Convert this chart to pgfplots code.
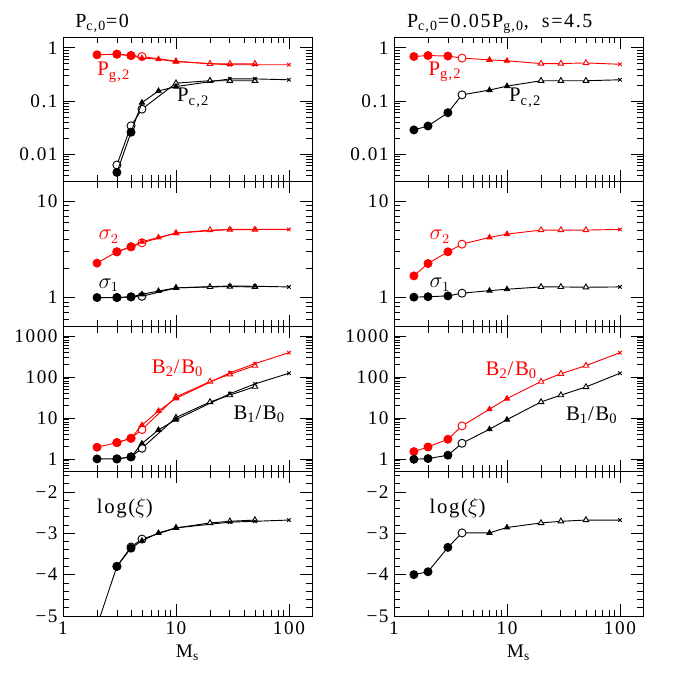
\documentclass[border=0pt]{standalone}
\usepackage{fontspec}
\setmainfont{Liberation Serif}[LetterSpace=8]
\usepackage{pgfplots}
\pgfplotsset{compat=1.18}

\pgfplotsset{
  scale only axis, width=161.85pt, height=94.09pt,
  xmin=1, xmax=160, xtick={1,10,100}, xticklabels={},
  minor xtick={2,3,4,5,6,7,8,9,20,30,40,50,60,70,80,90},
  major tick length=7.5pt, minor tick length=4.2pt,
  axis line style={line width=0.6pt},
  tick style={black, line width=0.5pt},
  tick label style={font=\fontsize{12.5}{13}\selectfont},
  xlabel style={font=\fontsize{12.5}{13}\selectfont},
  clip mode=individual,
}
\pgfplotsset{
  myser/.style={color=#1, line width=0.6pt, scatter, point meta=explicit symbolic,
    scatter/classes={
      c={mark=*, mark size=2.6pt, draw=#1, fill=#1},
      o={mark=*, mark size=2.6pt, draw=#1, fill=white},
      t={mark=triangle*, mark size=1.9pt, draw=#1, fill=#1},
      u={mark=triangle*, mark size=2.1pt, draw=#1, fill=white},
      k={mark=x, mark size=1.6pt, draw=#1},
      n={mark=none}}},
}
\tikzset{
  mylab/.style={font=\fontsize{13.5}{14}\selectfont, anchor=base west, inner sep=0pt},
  myttl/.style={font=\fontsize{13}{14}\selectfont, anchor=base west, inner sep=0pt},
}

\begin{document}
\begin{tikzpicture}
\useasboundingbox (0pt,0pt) rectangle (440.7pt,-440.7pt);

% ---------- left column ----------
\begin{axis}[anchor=north west, at={(40.95pt,-24.05pt)}, xmode=log,
  ymode=log, ymin=0.003, ymax=1.6, ytick={0.01,0.1,1}, yticklabels={0.01,0.1,1},
  minor ytick={0.003,0.004,0.005,0.006,0.007,0.008,0.009,0.02,0.03,0.04,0.05,0.06,0.07,0.08,0.09,0.2,0.3,0.4,0.5,0.6,0.7,0.8,0.9}]
\addplot[myser=red] table[meta=c] {
m v c
3 0.76 o
4 0.715 o
5 0.686 o
10 0.56 u
20 0.50 u
30 0.50 u
50 0.50 u
};
\addplot[myser=red] table[meta=c] {
m v c
2 0.74 c
3 0.76 c
4 0.715 c
5 0.64 t
7 0.61 t
10 0.55 t
30 0.48 k
50 0.48 k
100 0.48 k
};
\addplot[myser=black] table[meta=c] {
m v c
3 0.0062 o
4 0.034 o
5 0.07 o
10 0.216 u
20 0.24 u
30 0.24 u
50 0.24 u
};
\addplot[myser=black] table[meta=c] {
m v c
3 0.0045 c
4 0.0257 c
5 0.093 t
7 0.154 t
10 0.186 t
30 0.26 k
50 0.26 k
100 0.25 k
};
\node[mylab, red] at (rel axis cs:0.137,0.731) {P\textsubscript{g,2}};
\node[mylab] at (rel axis cs:0.457,0.553) {P\textsubscript{c,2}};
\node[myttl] at (rel axis cs:0.048,1.067) {P\textsubscript{c,0}=0};
\end{axis}

\begin{axis}[anchor=north west, at={(40.95pt,-118.14pt)}, xmode=log,
  ymode=log, ymin=0.5, ymax=16, ytick={1,10}, yticklabels={1,10},
  minor ytick={0.5,0.6,0.7,0.8,0.9,2,3,4,5,6,7,8,9}]
\addplot[myser=red] table[meta=c] {
m v c
3 2.99 o
4 3.37 o
5 3.71 o
10 4.68 u
20 5.03 u
30 5.08 u
50 5.08 u
};
\addplot[myser=red] table[meta=c] {
m v c
2 2.28 c
3 2.99 c
4 3.37 c
5 3.8 t
7 4.22 t
10 4.68 t
30 5.11 k
50 5.11 k
100 5.11 k
};
\addplot[myser=black] table[meta=c] {
m v c
3 1.0 o
4 1.016 o
5 1.03 o
10 1.26 u
20 1.29 u
30 1.30 u
50 1.29 u
};
\addplot[myser=black] table[meta=c] {
m v c
2 1.0 c
3 1.0 c
4 1.016 c
5 1.08 t
7 1.17 t
10 1.26 t
30 1.32 k
50 1.31 k
100 1.29 k
};
\node[mylab, red] at (rel axis cs:0.142,0.598) {$\sigma_2$};
\node[mylab] at (rel axis cs:0.142,0.264) {$\sigma_1$};
\end{axis}

\begin{axis}[anchor=north west, at={(40.95pt,-212.23pt)}, xmode=log,
  ymode=log, ymin=0.5, ymax=1700, ytick={1,10,100,1000}, yticklabels={1,10,100,1000},
  minor ytick={0.5,0.6,0.7,0.8,0.9,2,3,4,5,6,7,8,9,20,30,40,50,60,70,80,90,200,300,400,500,600,700,800,900}]
\addplot[myser=red] table[meta=c] {
m v c
3 2.5 o
4 3.19 o
5 5.2 o
10 32.6 u
20 77 u
30 116 u
50 189 u
};
\addplot[myser=red] table[meta=c] {
m v c
2 1.93 c
3 2.5 c
4 3.19 c
5 6.7 t
7 14.8 t
10 30 t
30 126 k
50 211 k
100 391 k
};
\addplot[myser=black] table[meta=c] {
m v c
3 1.0 o
4 1.12 o
5 1.82 o
10 10.2 u
20 24.5 u
30 36 u
50 58 u
};
\addplot[myser=black] table[meta=c] {
m v c
2 1.0 c
3 1.0 c
4 1.12 c
5 2.37 t
7 5.1 t
10 9.1 t
30 39 k
50 67.6 k
100 123 k
};
\node[mylab, red] at (rel axis cs:0.356,0.677) {B\textsubscript{2}/B\textsubscript{0}};
\node[mylab] at (rel axis cs:0.684,0.359) {B\textsubscript{1}/B\textsubscript{0}};
\end{axis}

\begin{axis}[anchor=north west, at={(40.95pt,-306.31pt)}, xmode=log,
  ymin=-5, ymax=-1.5, ytick={-5,-4,-3,-2}, yticklabels={−5,−4,−3,−2},
  minor ytick={-4.8,-4.6,-4.4,-4.2,-3.8,-3.6,-3.4,-3.2,-2.8,-2.6,-2.4,-2.2,-1.8,-1.6},
  xticklabels={1,10,100}, xlabel={M\textsubscript{s}}]
\addplot[myser=black] table[meta=c] {
m v c
3 -3.80 o
4 -3.33 o
5 -3.14 o
10 -2.87 u
20 -2.75 u
30 -2.71 u
50 -2.68 u
};
\addplot[myser=black] table[meta=c] {
m v c
2 -5.24 n
3 -3.80 c
4 -3.36 c
5 -3.18 t
7 -2.99 t
10 -2.87 t
30 -2.73 k
50 -2.71 k
100 -2.68 k
};
\node[mylab] at (rel axis cs:0.135,0.709) {log($\xi$)};
\end{axis}

% ---------- right column ----------
\begin{axis}[anchor=north west, at={(256.1pt,-24.05pt)}, xmode=log,
  ymode=log, ymin=0.003, ymax=1.6, ytick={0.01,0.1,1}, yticklabels={0.01,0.1,1},
  minor ytick={0.003,0.004,0.005,0.006,0.007,0.008,0.009,0.02,0.03,0.04,0.05,0.06,0.07,0.08,0.09,0.2,0.3,0.4,0.5,0.6,0.7,0.8,0.9}]
\addplot[myser=red] table[meta=c] {
m v c
1.5 0.686 c
2 0.716 c
3 0.70 c
4 0.64 o
7 0.594 t
10 0.57 t
20 0.505 u
30 0.505 u
50 0.52 u
100 0.49 k
};
\addplot[myser=black] table[meta=c] {
m v c
1.5 0.0284 c
2 0.0337 c
3 0.060 c
4 0.13 o
7 0.16 t
10 0.19 t
20 0.24 u
30 0.24 u
50 0.24 u
100 0.25 k
};
\node[mylab, red] at (rel axis cs:0.138,0.737) {P\textsubscript{g,2}};
\node[mylab] at (rel axis cs:0.461,0.553) {P\textsubscript{c,2}};
\node[myttl] at (rel axis cs:0.051,1.067) {P\textsubscript{c,0}=0.05P\textsubscript{g,0},\ \ s=4.5};
\end{axis}

\begin{axis}[anchor=north west, at={(256.1pt,-118.14pt)}, xmode=log,
  ymode=log, ymin=0.5, ymax=16, ytick={1,10}, yticklabels={1,10},
  minor ytick={0.5,0.6,0.7,0.8,0.9,2,3,4,5,6,7,8,9}]
\addplot[myser=red] table[meta=c] {
m v c
1.5 1.68 c
2 2.26 c
3 2.99 c
4 3.59 o
7 4.22 t
10 4.57 t
20 5.03 u
30 5.03 u
50 5.03 u
100 5.11 k
};
\addplot[myser=black] table[meta=c] {
m v c
1.5 1.01 c
2 1.02 c
3 1.04 c
4 1.11 o
7 1.18 t
10 1.22 t
20 1.29 u
30 1.29 u
50 1.28 u
100 1.29 k
};
\node[mylab, red] at (rel axis cs:0.142,0.598) {$\sigma_2$};
\node[mylab] at (rel axis cs:0.142,0.268) {$\sigma_1$};
\end{axis}

\begin{axis}[anchor=north west, at={(256.1pt,-212.23pt)}, xmode=log,
  ymode=log, ymin=0.5, ymax=1700, ytick={1,10,100,1000}, yticklabels={1,10,100,1000},
  minor ytick={0.5,0.6,0.7,0.8,0.9,2,3,4,5,6,7,8,9,20,30,40,50,60,70,80,90,200,300,400,500,600,700,800,900}]
\addplot[myser=red] table[meta=c] {
m v c
1.5 1.51 c
2 1.96 c
3 3.02 c
4 6.4 o
7 16.3 t
10 29.6 t
20 77 u
30 120 u
50 189 u
100 391 k
};
\addplot[myser=black] table[meta=c] {
m v c
1.5 0.98 c
2 1.02 c
3 1.23 c
4 2.41 o
7 5.3 t
10 9.1 t
20 24.5 u
30 36 u
50 57 u
100 123 k
};
\node[mylab, red] at (rel axis cs:0.367,0.665) {B\textsubscript{2}/B\textsubscript{0}};
\node[mylab] at (rel axis cs:0.69,0.354) {B\textsubscript{1}/B\textsubscript{0}};
\end{axis}

\begin{axis}[anchor=north west, at={(256.1pt,-306.31pt)}, xmode=log,
  ymin=-5, ymax=-1.5, ytick={-5,-4,-3,-2}, yticklabels={−5,−4,−3,−2},
  minor ytick={-4.8,-4.6,-4.4,-4.2,-3.8,-3.6,-3.4,-3.2,-2.8,-2.6,-2.4,-2.2,-1.8,-1.6},
  xticklabels={1,10,100}, xlabel={M\textsubscript{s}}]
\addplot[myser=black] table[meta=c] {
m v c
1.5 -4.0 c
2 -3.93 c
3 -3.34 c
4 -2.99 o
7 -2.99 t
10 -2.86 t
20 -2.75 u
30 -2.71 u
50 -2.68 u
100 -2.68 k
};
\node[mylab] at (rel axis cs:0.142,0.709) {log($\xi$)};
\end{axis}
\end{tikzpicture}
\end{document}
